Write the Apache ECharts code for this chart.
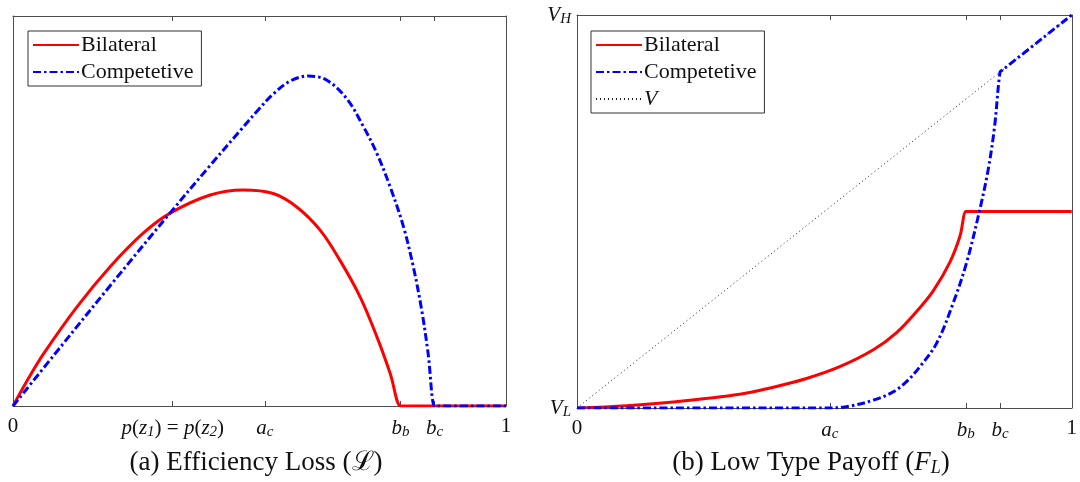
<!DOCTYPE html>
<html>
<head>
<meta charset="utf-8">
<script src="https://cdn.jsdelivr.net/npm/echarts@6/dist/echarts.min.js"></script>
<style>
  html, body { margin: 0; padding: 0; background: #fff; }
  #chart { width: 1080px; height: 482px; }
</style>
</head>
<body>
<div id="chart"></div>
<script>
// tick positions shared by both panels (p(z1)=p(z2), a_c, b_b, b_c)
const tickPosA = [0, 0.324, 0.511, 0.786, 0.855, 1];
const tickLabelsA = ['0', '{i|p}({i|z}{s|1}) = {i|p}({i|z}{s|2})', '{i|a}{s|c}', '{i|b}{s|b}', '{i|b}{s|c}', '1'];
const tickPosB = [0, 0.511, 0.786, 0.855, 1];
const tickLabelsB = ['0', '{i|a}{s|c}', '{i|b}{s|b}', '{i|b}{s|c}', '1'];
const yLabelsB = ['{i|V}{s|L}', '{i|V}{s|H}'];

// (a) efficiency loss
const lossBilateral = [
  [0, 0], [0.03, 0.068], [0.0615, 0.133], [0.129, 0.253], [0.197, 0.357],
  [0.264, 0.443], [0.318, 0.494], [0.400, 0.541], [0.467, 0.554], [0.528, 0.545],
  [0.575, 0.511], [0.623, 0.451], [0.663, 0.374], [0.704, 0.280], [0.738, 0.178],
  [0.765, 0.084], [0.786, 0], [0.79, 0], [1, 0]
];
const lossCompetitive = [
  [0, 0], [0.1, 0.157], [0.2, 0.313], [0.318, 0.494], [0.400, 0.617],
  [0.460, 0.705], [0.500, 0.763], [0.528, 0.800], [0.562, 0.833], [0.599, 0.846],
  [0.636, 0.836], [0.677, 0.788], [0.711, 0.716], [0.738, 0.648], [0.765, 0.562],
  [0.792, 0.460], [0.812, 0.357], [0.829, 0.246], [0.842, 0.135], [0.855, 0],
  [0.86, 0], [1, 0]
];

// (b) low type payoff
const payBilateral = [
  [0, 0], [0.1, 0.006], [0.2, 0.016], [0.329, 0.035], [0.397, 0.053],
  [0.464, 0.075], [0.531, 0.105], [0.599, 0.148], [0.646, 0.192], [0.686, 0.245],
  [0.720, 0.298], [0.754, 0.372], [0.774, 0.437], [0.786, 0.5], [0.79, 0.5], [1, 0.5]
];
const payCompetitive = [
  [0, 0], [0.511, 0], [0.552, 0.005], [0.599, 0.020], [0.639, 0.041],
  [0.666, 0.067], [0.693, 0.105], [0.727, 0.165], [0.760, 0.266], [0.787, 0.368],
  [0.814, 0.504], [0.831, 0.606], [0.844, 0.716], [0.855, 0.855], [0.86, 0.86], [1, 1]
];
const payV = [[0, 0], [1, 1]];

const FONT = 'Liberation Serif';
const AXIS_COLOR = '#4d4d4d';
const rich = {
  i: { fontStyle: 'italic', fontSize: 21, fontFamily: FONT, color: '#111', verticalAlign: 'middle' },
  s: { fontStyle: 'italic', fontSize: 15, fontFamily: FONT, color: '#111', verticalAlign: 'bottom', padding: [9, 0, 0, 0] }
};

function lookup(pos, labels) {
  return function (v) {
    for (let i = 0; i < pos.length; i++) {
      if (Math.abs(pos[i] - v) < 1e-6) return labels[i];
    }
    return '';
  };
}

function xAxes(gridIndex, pos, labels) {
  const tick = { show: true, inside: true, length: 5, customValues: pos, lineStyle: { color: AXIS_COLOR } };
  const axisLine = { show: true, onZero: false, lineStyle: { color: AXIS_COLOR, width: 1 } };
  return [
    {
      type: 'value', gridIndex: gridIndex, min: 0, max: 1, position: 'bottom',
      axisLine: axisLine, axisTick: tick, splitLine: { show: false },
      axisLabel: {
        customValues: pos, formatter: lookup(pos, labels), margin: 10,
        fontFamily: FONT, fontSize: 21, color: '#111', rich: rich
      }
    },
    {
      type: 'value', gridIndex: gridIndex, min: 0, max: 1, position: 'top',
      axisLine: axisLine, axisTick: tick, splitLine: { show: false },
      axisLabel: { show: false }
    }
  ];
}

function yAxes(gridIndex, labels) {
  const axisLine = { show: true, onZero: false, lineStyle: { color: AXIS_COLOR, width: 1 } };
  const left = {
    type: 'value', gridIndex: gridIndex, min: 0, max: 1, position: 'left',
    axisLine: axisLine, axisTick: { show: false }, splitLine: { show: false },
    axisLabel: { show: false }
  };
  if (labels) {
    left.axisLabel = {
      show: true, customValues: [0, 1], formatter: lookup([0, 1], labels),
      margin: 6, fontFamily: FONT, fontSize: 21, color: '#111', rich: rich
    };
  }
  return [left, {
    type: 'value', gridIndex: gridIndex, min: 0, max: 1, position: 'right',
    axisLine: axisLine, axisTick: { show: false }, splitLine: { show: false },
    axisLabel: { show: false }
  }];
}

const bilStyle = { color: '#ff0000', width: 3, type: 'solid' };
const compStyle = { color: '#0000ff', width: 3, type: [8, 3, 2.5, 3] };
const vStyle = { color: '#222', width: 1, type: [1, 3] };

function line(name, data, xi, yi, style, z) {
  return {
    name: name, type: 'line', data: data, xAxisIndex: xi, yAxisIndex: yi,
    symbol: 'none', smooth: 0.35, color: style.color,
    lineStyle: style, z: z, animation: false
  };
}

const legendBase = {
  orient: 'vertical', itemWidth: 46, itemHeight: 14, itemGap: 5,
  backgroundColor: '#fff', borderColor: '#333', borderWidth: 1, borderRadius: 0,
  padding: [3, 8, 3, 4], selectedMode: false,
  itemStyle: { opacity: 0 },
  textStyle: { fontFamily: FONT, fontSize: 22, color: '#111', lineHeight: 22, padding: [0, 0, 0, -3], rich: { i: { fontStyle: 'italic', fontFamily: FONT, fontSize: 22, color: '#111' } } },
  formatter: function (name) { return name === 'V' ? '{i|V}' : name; }
};

const option = {
  backgroundColor: '#fff',
  animation: false,
  title: [
    { text: '(a) Efficiency Loss (ℒ)', left: 256, top: 449, textAlign: 'center', padding: 0,
      textStyle: { fontFamily: FONT, fontSize: 27, fontWeight: 'normal', color: '#111' } },
    { text: '(b) Low Type Payoff ({i|F}{s|L})', left: 811, top: 449, textAlign: 'center', padding: 0,
      textStyle: { fontFamily: FONT, fontSize: 27, fontWeight: 'normal', color: '#111',
        rich: {
          i: { fontStyle: 'italic', fontFamily: FONT, fontSize: 27, color: '#111' },
          s: { fontStyle: 'italic', fontFamily: FONT, fontSize: 18, color: '#111', verticalAlign: 'bottom', padding: [10, 0, 0, 0] }
        } } }
  ],
  legend: [
    Object.assign({}, legendBase, { left: 28, top: 31, data: ['Bilateral', 'Competetive'] }),
    Object.assign({}, legendBase, { left: 591, top: 31, data: ['Bilateral', 'Competetive', 'V'] })
  ],
  grid: [
    { left: 13, top: 16, width: 493, height: 390, containLabel: false },
    { left: 577, top: 15, width: 495, height: 393, containLabel: false }
  ],
  xAxis: xAxes(0, tickPosA, tickLabelsA).concat(xAxes(1, tickPosB, tickLabelsB)),
  yAxis: yAxes(0, null).concat(yAxes(1, yLabelsB)),
  series: [
    line('Bilateral', lossBilateral, 0, 0, bilStyle, 3),
    line('Competetive', lossCompetitive, 0, 0, compStyle, 4),
    line('V', payV, 2, 2, vStyle, 2),
    line('Bilateral', payBilateral, 2, 2, bilStyle, 3),
    line('Competetive', payCompetitive, 2, 2, compStyle, 4)
  ]
};

const chart = echarts.init(document.getElementById('chart'), null, { renderer: 'canvas', devicePixelRatio: 1 });
chart.setOption(option);
</script>
</body>
</html>
